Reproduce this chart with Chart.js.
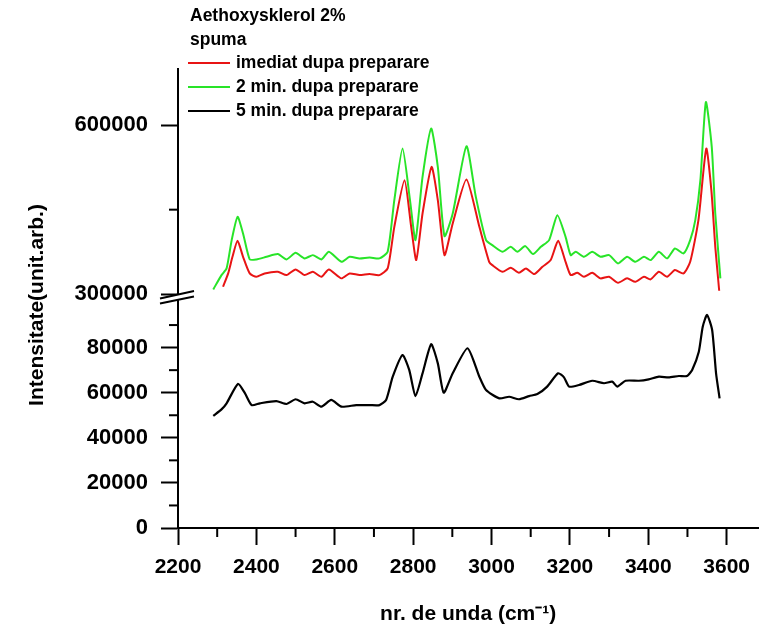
<!DOCTYPE html>
<html>
<head>
<meta charset="utf-8">
<script src="https://cdn.jsdelivr.net/npm/chart.js@4.4.0/dist/chart.umd.min.js"></script>
<style>
  html, body { margin: 0; padding: 0; background: #fff; }
  #wrap { width: 760px; height: 635px; }
</style>
</head>
<body>
<div id="wrap"><canvas id="spectrum"></canvas></div>
<script>
// values: wavenumber (cm-1) / intensity
const waveRed = [2315, 2328, 2339, 2352, 2366, 2383, 2400, 2421, 2455, 2477, 2500, 2523, 2544, 2566, 2585, 2617, 2638, 2663, 2689, 2714, 2735, 2752, 2778, 2795, 2808, 2824, 2847, 2863, 2880, 2901, 2936, 2969, 2994, 3002, 3028, 3049, 3070, 3088, 3109, 3130, 3151, 3170, 3189, 3202, 3219, 3236, 3257, 3278, 3300, 3323, 3346, 3367, 3389, 3406, 3427, 3448, 3468, 3490, 3507, 3528, 3548, 3561, 3571, 3581];
const intRed = [313000, 336700, 366200, 394600, 366200, 336700, 330700, 336700, 339600, 333700, 343800, 333700, 339600, 330700, 343800, 327900, 336700, 333700, 335500, 333700, 345600, 419500, 502400, 419500, 360400, 443200, 526000, 466900, 369200, 425500, 503600, 419500, 357300, 351500, 339600, 346700, 337800, 345600, 335500, 348500, 360400, 394600, 357300, 333700, 337800, 330700, 337800, 327900, 330700, 320100, 327900, 321800, 330700, 326100, 339600, 330700, 342600, 336700, 357300, 431400, 558600, 484600, 384000, 305900];

const waveGreen = [2290, 2311, 2324, 2337, 2352, 2366, 2383, 2400, 2426, 2455, 2477, 2500, 2523, 2544, 2566, 2585, 2617, 2638, 2663, 2689, 2714, 2735, 2752, 2773, 2792, 2806, 2824, 2846, 2863, 2880, 2901, 2936, 2960, 2986, 3002, 3028, 3049, 3066, 3086, 3106, 3126, 3147, 3168, 3189, 3202, 3215, 3236, 3257, 3278, 3300, 3323, 3346, 3367, 3389, 3406, 3427, 3448, 3468, 3490, 3507, 3520, 3533, 3547, 3562, 3571, 3584];
const intGreen = [308300, 333700, 345600, 395900, 437200, 407700, 361600, 361600, 366200, 371000, 361600, 373300, 363400, 369200, 361600, 375100, 357300, 366200, 363400, 365100, 363400, 375100, 466900, 558600, 466900, 395900, 508200, 594100, 526000, 403000, 443200, 562700, 472700, 395900, 387000, 375100, 384000, 375100, 385200, 371000, 384000, 395900, 440200, 401700, 369200, 375100, 366200, 375100, 366200, 369200, 354500, 366200, 357300, 366200, 360400, 375100, 363400, 381100, 372200, 395900, 431400, 502400, 641300, 561500, 443200, 327900];

const waveBlack = [2290, 2311, 2324, 2353, 2371, 2388, 2409, 2451, 2477, 2500, 2523, 2544, 2566, 2591, 2617, 2655, 2689, 2714, 2731, 2748, 2773, 2790, 2806, 2824, 2846, 2863, 2878, 2901, 2939, 2969, 2986, 3020, 3045, 3070, 3096, 3117, 3142, 3170, 3185, 3198, 3223, 3257, 3287, 3308, 3321, 3342, 3376, 3401, 3427, 3452, 3478, 3499, 3512, 3529, 3539, 3550, 3563, 3573, 3582];
const intBlack = [49700, 52600, 55300, 63900, 59700, 54500, 55300, 56300, 55000, 57100, 55300, 56000, 53800, 56800, 53800, 54500, 54500, 54500, 56800, 67100, 76700, 70100, 58500, 68600, 81500, 73000, 60000, 68600, 79700, 67100, 61200, 57500, 58200, 57100, 58500, 59400, 62700, 68600, 66800, 62700, 63400, 65300, 64200, 64900, 62700, 65300, 65300, 65900, 67100, 66800, 67400, 67400, 70100, 78200, 89300, 94500, 87800, 68600, 57500];

// tick values
const xMajor = [2200, 2400, 2600, 2800, 3000, 3200, 3400, 3600];
const xMinor = [2300, 2500, 2700, 2900, 3100, 3300, 3500];
const yUpMajor = [300000, 600000];
const yUpMinor = [450000];
const yLowMajor = [0, 20000, 40000, 60000, 80000];
const yLowMinor = [10000, 30000, 50000, 70000, 90000];

const legendTitle = ['Aethoxysklerol 2%', 'spuma'];

const pts = (xs, ys) => xs.map((x, i) => ({ x: x, y: ys[i] }));
const FONT = "'Liberation Sans', Arial, sans-serif";

function setTicks(list) {
    return scale => { scale.ticks = list.slice().sort((a, b) => a - b).map(v => ({ value: v })); };
}

function yAxis(major, minor, min, max, weight) {
    return {
        type: 'linear',
        position: 'left',
        stack: 'intens',
        stackWeight: weight,
        min: min,
        max: max,
        afterBuildTicks: setTicks(major.concat(minor)),
        afterFit: s => { s.width = 178; },
        grid: {
            drawOnChartArea: false,
            tickLength: 17,
            tickWidth: 2,
            tickColor: c => major.includes(c.tick && c.tick.value) ? '#000' : 'rgba(0,0,0,0)'
        },
        border: { color: '#000', width: 2 },
        ticks: {
            padding: 13,
            color: '#000',
            font: { family: FONT, size: 22, weight: 'bold' },
            callback: v => major.includes(v) ? String(v) : ''
        }
    };
}

const decorations = {
    id: 'decorations',
    afterDraw(chart) {
        const ctx = chart.ctx;
        const sx = chart.scales.x, su = chart.scales.yUp, sl = chart.scales.yLow;
        ctx.save();
        ctx.strokeStyle = '#000';
        ctx.lineWidth = 2;
        const seg = (x1, y1, x2, y2) => { ctx.beginPath(); ctx.moveTo(x1, y1); ctx.lineTo(x2, y2); ctx.stroke(); };

        // minor ticks
        xMinor.forEach(v => { const p = sx.getPixelForValue(v); seg(p, sx.top, p, sx.top + 9); });
        yUpMinor.forEach(v => { const p = su.getPixelForValue(v); seg(su.right - 9, p, su.right, p); });
        yLowMinor.forEach(v => { const p = sl.getPixelForValue(v); seg(sl.right - 9, p, sl.right, p); });

        // axis break
        const b = su.bottom, ax = su.right;
        ctx.fillStyle = '#fff';
        ctx.fillRect(ax - 3, b - 3, 6, 4.5);
        seg(ax - 18, b + 0.5, ax + 16, b - 7);
        seg(ax - 18, b + 5.5, ax + 16, b - 1.5);

        // legend block
        ctx.fillStyle = '#000';
        ctx.font = 'bold 17.5px ' + FONT;
        ctx.textBaseline = 'middle';
        ctx.textAlign = 'left';
        ctx.fillText(legendTitle[0], 190, 16);
        ctx.fillText(legendTitle[1], 190, 40);
        const rowY = [63, 87, 111];
        chart.data.datasets.forEach((ds, i) => {
            ctx.strokeStyle = ds.borderColor;
            seg(188, rowY[i], 230, rowY[i]);
            ctx.fillText(ds.label, 236, rowY[i]);
        });

        // y axis title
        ctx.font = 'bold 21px ' + FONT;
        ctx.textAlign = 'center';
        ctx.translate(37, 305);
        ctx.rotate(-Math.PI / 2);
        ctx.fillText('Intensitate(unit.arb.)', 0, 0);
        ctx.restore();
    }
};

new Chart(document.getElementById('spectrum'), {
    type: 'line',
    data: {
        datasets: [
            { label: 'imediat dupa preparare', data: pts(waveRed, intRed), yAxisID: 'yUp', borderColor: 'rgb(232,20,20)', borderWidth: 2 },
            { label: '2 min. dupa preparare', data: pts(waveGreen, intGreen), yAxisID: 'yUp', borderColor: 'rgb(40,228,40)', borderWidth: 2 },
            { label: '5 min. dupa preparare', data: pts(waveBlack, intBlack), yAxisID: 'yLow', borderColor: '#000', borderWidth: 2.2 }
        ]
    },
    options: {
        responsive: true,
        maintainAspectRatio: false,
        animation: false,
        layout: { padding: { top: 69, right: 0, bottom: 0, left: 0 } },
        elements: { point: { radius: 0 }, line: { tension: 0.2, borderJoinStyle: 'round' } },
        plugins: { legend: { display: false }, tooltip: { enabled: false } },
        scales: {
            x: {
                type: 'linear',
                min: 2200,
                max: 3681,
                afterBuildTicks: setTicks(xMajor.concat(xMinor)),
                afterFit: s => { s.height = 107; },
                grid: {
                    drawOnChartArea: false,
                    tickLength: 17,
                    tickWidth: 2,
                    tickColor: c => xMajor.includes(c.tick && c.tick.value) ? '#000' : 'rgba(0,0,0,0)'
                },
                border: { color: '#000', width: 2 },
                ticks: {
                    autoSkip: false,
                    maxRotation: 0,
                    padding: 10,
                    color: '#000',
                    font: { family: FONT, size: 21, weight: 'bold' },
                    callback: v => xMajor.includes(v) ? String(v) : ''
                },
                title: {
                    display: true,
                    text: 'nr. de unda (cm\u207B\u00B9)',
                    color: '#000',
                    font: { family: FONT, size: 21, weight: 'bold' },
                    padding: { top: 0, bottom: 8 }
                }
            },
            yLow: yAxis(yLowMajor, yLowMinor, 0, 102000, 230),
            yUp: yAxis(yUpMajor, yUpMinor, 293000, 700000, 229)
        }
    },
    plugins: [decorations]
});
</script>
</body>
</html>
